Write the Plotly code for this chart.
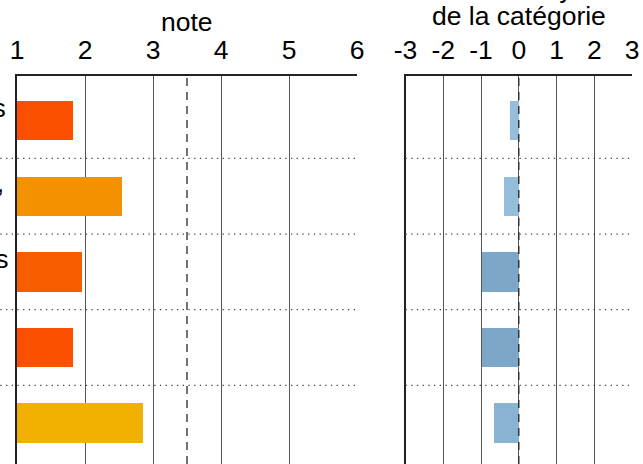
import plotly.graph_objects as go

# ---- data ----
categories = [
    "Qualité des produits<br>(fraîcheur)",
    "Hygiène, ambiance,<br>agencement",
    "Qualité des services<br>après-vente",
    "Prix et promotions",
    "Horaires<br>d'ouverture",
]
notes = [1.83, 2.54, 1.96, 1.83, 2.86]
ecarts = [-0.24, -0.40, -0.99, -0.99, -0.66]
note_colors = ["#FA5000", "#F39200", "#F85E00", "#FA5000", "#F2B000"]
ecart_colors = ["#96BEDC", "#94BDDC", "#7CA7C9", "#7CA7C9", "#88B3D2"]
note_ticks = [1, 2, 3, 4, 5, 6]
ecart_ticks = [-3, -2, -1, 0, 1, 2, 3]
ecart_ticktext = ["-3", "-2", "-1", "0", "1", "2", "3"]
note_ref = 3.5
ecart_ref = 0
title_note = "note"
title_ecart_lines = ["écart à la moyenne", "de la catégorie"]

FONT = "Liberation Sans, Arial, Helvetica, sans-serif"
FS = 26.5
W, H = 643, 464

fig = go.Figure()
fig.add_trace(go.Bar(
    y=categories, x=notes, orientation="h", width=0.52,
    marker=dict(color=note_colors, line=dict(width=0)),
    xaxis="x", yaxis="y", showlegend=False, hoverinfo="x+y",
))
fig.add_trace(go.Bar(
    y=categories, x=ecarts, orientation="h", width=0.52,
    marker=dict(color=ecart_colors, line=dict(width=0)),
    xaxis="x2", yaxis="y2", showlegend=False, hoverinfo="x+y",
))

yrange = [4.54, -0.59]
common_x = dict(
    side="top", showgrid=True, gridcolor="#555555", gridwidth=1.2,
    showline=True, linecolor="#222222", linewidth=1.5,
    ticks="", ticklabelstandoff=5, zeroline=False,
    tickfont=dict(size=FS, color="black", family=FONT),
    layer="below traces", fixedrange=True,
)
common_y = dict(
    type="category", categoryorder="array", categoryarray=categories,
    range=yrange, showticklabels=False, showgrid=False, zeroline=False,
    showline=True, linecolor="#222222", linewidth=1.5,
    layer="below traces", fixedrange=True,
)

def px(p):
    return p / W

fig.update_layout(
    width=W, height=H,
    margin=dict(l=0, r=0, t=76, b=0, pad=0, autoexpand=False),
    paper_bgcolor="white", plot_bgcolor="white",
    font=dict(family=FONT, size=FS, color="black"),
    bargap=0,
    xaxis=dict(domain=[px(17), px(357)], range=[1, 6], tickvals=note_ticks,
               anchor="y", **common_x),
    yaxis=dict(domain=[0, 1], anchor="x", **common_y),
    xaxis2=dict(domain=[px(405.5), px(632)], range=[-3, 3], tickvals=ecart_ticks,
                ticktext=ecart_ticktext, anchor="y2", **common_x),
    yaxis2=dict(domain=[0, 1], anchor="x2", **common_y),
)

# dotted separators between categories
for i in range(len(categories) - 1):
    fig.add_shape(type="line", xref="x domain", yref="y", x0=-0.2, x1=1,
                  y0=i + 0.5, y1=i + 0.5,
                  line=dict(color="#444444", width=1.3, dash="1.3px,4.4px"))
    fig.add_shape(type="line", xref="x2 domain", yref="y2", x0=0, x1=1,
                  y0=i + 0.5, y1=i + 0.5,
                  line=dict(color="#444444", width=1.3, dash="1.3px,4.4px"))

# dashed reference lines
fig.add_shape(type="line", xref="x", yref="y domain", x0=note_ref, x1=note_ref,
              y0=0, y1=1, line=dict(color="#444444", width=1.5, dash="8px,6px"))
fig.add_shape(type="line", xref="x2", yref="y2 domain", x0=ecart_ref, x1=ecart_ref,
              y0=0, y1=1, line=dict(color="#333333", width=1.5, dash="8px,6px"))

# category labels (left aligned, partly outside the canvas)
for c in categories:
    fig.add_annotation(text=c, xref="paper", yref="y", x=px(-232), y=c,
                       xanchor="left", yanchor="middle", align="left", yshift=-4,
                       showarrow=False, font=dict(size=FS, family=FONT, color="black"))

# axis titles
fig.add_annotation(text=title_note, xref="x domain", yref="paper", x=0.5, y=1,
                   xanchor="center", yanchor="bottom", yshift=37, showarrow=False,
                   font=dict(size=FS, family=FONT, color="black"))
for k, line in enumerate(reversed(title_ecart_lines)):
    fig.add_annotation(text=line, xref="x2 domain", yref="paper", x=0.5, y=1,
                       xanchor="center", yanchor="bottom", yshift=43 + 27 * k,
                       showarrow=False,
                       font=dict(size=FS, family=FONT, color="black"))

fig.write_html(
    "out.html",
    config={"displayModeBar": False},
    post_script="document.body.style.margin='0';document.body.style.overflow='hidden';",
)
